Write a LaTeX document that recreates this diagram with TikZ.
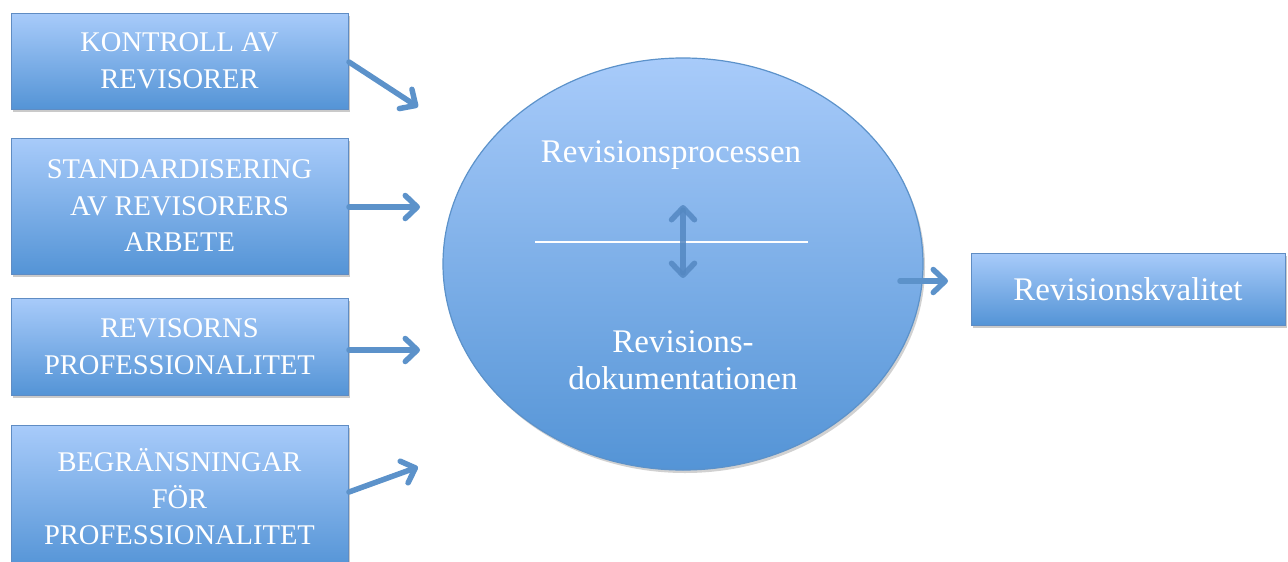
\documentclass[tikz,border=0pt]{standalone}
\usepackage{fontspec}
\setmainfont{Liberation Serif}
\usetikzlibrary{arrows.meta,shadows,shapes.geometric}
\definecolor{boxtop}{RGB}{168,203,250}
\definecolor{boxbot}{RGB}{84,148,214}
\definecolor{boxline}{RGB}{95,140,195}
\definecolor{arr}{RGB}{92,146,202}
\definecolor{darr}{RGB}{84,136,194}
\tikzset{
  blbox/.style={draw=boxline, line width=0.8pt, top color=boxtop, bottom color=boxbot,
    text=white, align=center, inner sep=0pt,
    drop shadow={shadow xshift=2pt, shadow yshift=-3pt, opacity=0.35, fill=black!60},
    font=\fontsize{28.5}{36.5}\selectfont},
  conn/.style={draw=arr, line width=5.5pt, line cap=round,
    -{Straight Barb[length=12pt,width=23pt,line width=5.5pt,round]}},
  wtext/.style={text=white, font=\fontsize{33}{37}\selectfont, align=center}
}
\begin{document}
\begin{tikzpicture}[x=1pt,y=-1pt]
\useasboundingbox (0,0) rectangle (1288,562);
\node[blbox, minimum width=337pt, minimum height=96pt] (b1) at (179.5,61) {KONTROLL AV\\REVISORER};
\node[blbox, minimum width=337pt, minimum height=136pt] (b2) at (179.5,206) {STANDARDISERING\\AV REVISORERS\\ARBETE};
\node[blbox, minimum width=337pt, minimum height=97pt] (b3) at (179.5,346.5) {REVISORNS\\PROFESSIONALITET};
\node[blbox, minimum width=337pt, minimum height=144pt] (b4) at (179.5,497) {BEGRÄNSNINGAR\\FÖR\\PROFESSIONALITET};
\node[blbox, minimum width=314pt, minimum height=72pt, font=\fontsize{33}{37}\selectfont] (out) at (1128,289) {Revisionskvalitet};
\node[draw=arr, line width=1.2pt, ellipse, top color=boxtop, bottom color=boxbot,
  minimum width=480pt, minimum height=412pt, inner sep=0pt,
  drop shadow={shadow xshift=2pt, shadow yshift=-3pt, opacity=0.3, fill=black!60}] (ell) at (683,264) {};
\node[wtext] (t1) at (671,155) {Revisionsprocessen};
\node[wtext] (t2) at (683,360) {Revisions-\\dokumentationen};
\coordinate (l1) at (535,242);
\coordinate (l2) at (808,242);
\draw[white, line width=2pt] (l1) -- (l2);
\coordinate (a1s) at (349,62); \coordinate (a1e) at (418,107);
\coordinate (a2s) at (349,207); \coordinate (a2e) at (420,207);
\coordinate (a3s) at (349,350); \coordinate (a3e) at (420,350);
\coordinate (a4s) at (349,492); \coordinate (a4e) at (418,467);
\coordinate (a5s) at (900,281); \coordinate (a5e) at (948,281);
\draw[conn] (a1s) -- (a1e);
\draw[conn] (a2s) -- (a2e);
\draw[conn] (a3s) -- (a3e);
\draw[conn] (a4s) -- (a4e);
\draw[conn] (a5s) -- (a5e);
\coordinate (d1) at (683,205);
\coordinate (d2) at (683,278);
\draw[draw=darr, opacity=0.85, line width=6pt, line cap=round,
  {Straight Barb[length=12pt,width=23pt,line width=5.5pt,round]}-{Straight Barb[length=12pt,width=23pt,line width=5.5pt,round]}]
  (d1) -- (d2);
\end{tikzpicture}
\end{document}
